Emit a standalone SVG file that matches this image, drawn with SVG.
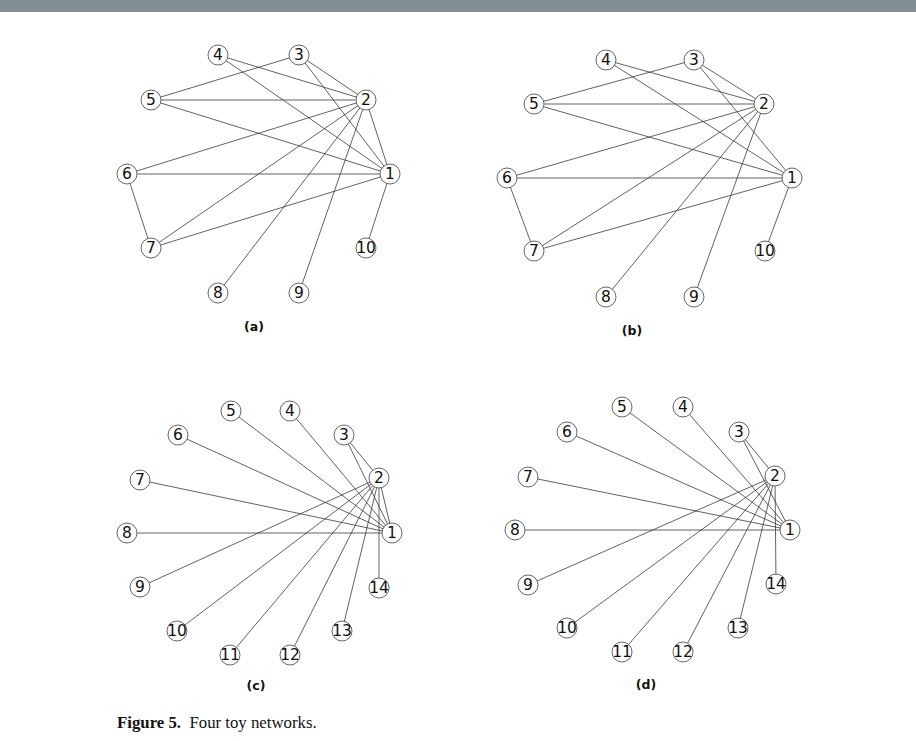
<svg xmlns="http://www.w3.org/2000/svg" width="916" height="741" viewBox="0 0 916 741">
<style>
.e{stroke:#3a3a3a;stroke-width:0.8;fill:none}
.n circle{fill:#fff;stroke:#555;stroke-width:0.9}
.n text{font-family:"DejaVu Sans",sans-serif;font-size:15.5px;fill:#111;text-anchor:middle;dominant-baseline:central}
.lab{font-family:"DejaVu Sans",sans-serif;font-size:12.5px;fill:#111;text-anchor:middle}
.cap{font-family:"Liberation Serif",serif;font-size:16.8px;fill:#111}
</style>
<rect x="0" y="0" width="916" height="12" fill="#838e95"/>
<!-- Panel a -->
<g id="panel-a">
<g id="a-edges">
<line class="e" x1="218" y1="55" x2="366" y2="100"/>
<line class="e" x1="218" y1="55" x2="390" y2="174"/>
<line class="e" x1="299" y1="55" x2="151" y2="100"/>
<line class="e" x1="299" y1="55" x2="366" y2="100"/>
<line class="e" x1="299" y1="55" x2="390" y2="174"/>
<line class="e" x1="151" y1="100" x2="366" y2="100"/>
<line class="e" x1="151" y1="100" x2="390" y2="174"/>
<line class="e" x1="366" y1="100" x2="127" y2="174"/>
<line class="e" x1="366" y1="100" x2="151" y2="248"/>
<line class="e" x1="366" y1="100" x2="218" y2="293"/>
<line class="e" x1="366" y1="100" x2="299" y2="293"/>
<line class="e" x1="366" y1="100" x2="390" y2="174"/>
<line class="e" x1="127" y1="174" x2="390" y2="174"/>
<line class="e" x1="127" y1="174" x2="151" y2="248"/>
<line class="e" x1="151" y1="248" x2="390" y2="174"/>
<line class="e" x1="390" y1="174" x2="366" y2="248"/>
</g>
<g id="a-n1" class="n"><circle cx="390" cy="174" r="10"/><text x="390" y="174">1</text></g>
<g id="a-n2" class="n"><circle cx="366" cy="100" r="10"/><text x="366" y="100">2</text></g>
<g id="a-n3" class="n"><circle cx="299" cy="55" r="10"/><text x="299" y="55">3</text></g>
<g id="a-n4" class="n"><circle cx="218" cy="55" r="10"/><text x="218" y="55">4</text></g>
<g id="a-n5" class="n"><circle cx="151" cy="100" r="10"/><text x="151" y="100">5</text></g>
<g id="a-n6" class="n"><circle cx="127" cy="174" r="10"/><text x="127" y="174">6</text></g>
<g id="a-n7" class="n"><circle cx="151" cy="248" r="10"/><text x="151" y="248">7</text></g>
<g id="a-n8" class="n"><circle cx="218" cy="293" r="10"/><text x="218" y="293">8</text></g>
<g id="a-n9" class="n"><circle cx="299" cy="293" r="10"/><text x="299" y="293">9</text></g>
<g id="a-n10" class="n"><circle cx="366" cy="248" r="10"/><text x="366" y="248">10</text></g>
<text class="lab" x="254" y="331" font-weight="bold">(a)</text>
</g>
<!-- Panel b -->
<g id="panel-b">
<g id="b-edges">
<line class="e" x1="606" y1="60" x2="764" y2="104"/>
<line class="e" x1="606" y1="60" x2="792" y2="178"/>
<line class="e" x1="694" y1="60" x2="534" y2="104"/>
<line class="e" x1="694" y1="60" x2="764" y2="104"/>
<line class="e" x1="694" y1="60" x2="792" y2="178"/>
<line class="e" x1="534" y1="104" x2="764" y2="104"/>
<line class="e" x1="534" y1="104" x2="792" y2="178"/>
<line class="e" x1="764" y1="104" x2="507" y2="178"/>
<line class="e" x1="764" y1="104" x2="534" y2="251"/>
<line class="e" x1="764" y1="104" x2="606" y2="297"/>
<line class="e" x1="764" y1="104" x2="694" y2="297"/>
<line class="e" x1="507" y1="178" x2="792" y2="178"/>
<line class="e" x1="507" y1="178" x2="534" y2="251"/>
<line class="e" x1="534" y1="251" x2="792" y2="178"/>
<line class="e" x1="792" y1="178" x2="765" y2="251"/>
</g>
<g id="b-n1" class="n"><circle cx="792" cy="178" r="10"/><text x="792" y="178">1</text></g>
<g id="b-n2" class="n"><circle cx="764" cy="104" r="10"/><text x="764" y="104">2</text></g>
<g id="b-n3" class="n"><circle cx="694" cy="60" r="10"/><text x="694" y="60">3</text></g>
<g id="b-n4" class="n"><circle cx="606" cy="60" r="10"/><text x="606" y="60">4</text></g>
<g id="b-n5" class="n"><circle cx="534" cy="104" r="10"/><text x="534" y="104">5</text></g>
<g id="b-n6" class="n"><circle cx="507" cy="178" r="10"/><text x="507" y="178">6</text></g>
<g id="b-n7" class="n"><circle cx="534" cy="251" r="10"/><text x="534" y="251">7</text></g>
<g id="b-n8" class="n"><circle cx="606" cy="297" r="10"/><text x="606" y="297">8</text></g>
<g id="b-n9" class="n"><circle cx="694" cy="297" r="10"/><text x="694" y="297">9</text></g>
<g id="b-n10" class="n"><circle cx="765" cy="251" r="10"/><text x="765" y="251">10</text></g>
<text class="lab" x="632" y="335" font-weight="bold">(b)</text>
</g>
<!-- Panel c -->
<g id="panel-c">
<g id="c-edges">
<line class="e" x1="392" y1="533" x2="290" y2="411"/>
<line class="e" x1="392" y1="533" x2="231" y2="411"/>
<line class="e" x1="392" y1="533" x2="178" y2="435"/>
<line class="e" x1="392" y1="533" x2="140" y2="480"/>
<line class="e" x1="392" y1="533" x2="127" y2="533"/>
<line class="e" x1="344" y1="435" x2="379" y2="478"/>
<line class="e" x1="344" y1="435" x2="392" y2="533"/>
<line class="e" x1="379" y1="478" x2="392" y2="533"/>
<line class="e" x1="379" y1="478" x2="140" y2="587"/>
<line class="e" x1="379" y1="478" x2="177" y2="631"/>
<line class="e" x1="379" y1="478" x2="230" y2="655"/>
<line class="e" x1="379" y1="478" x2="290" y2="655"/>
<line class="e" x1="379" y1="478" x2="342" y2="631"/>
<line class="e" x1="379" y1="478" x2="379" y2="588"/>
</g>
<g id="c-n1" class="n"><circle cx="392" cy="533" r="10"/><text x="392" y="533">1</text></g>
<g id="c-n2" class="n"><circle cx="379" cy="478" r="10"/><text x="379" y="478">2</text></g>
<g id="c-n3" class="n"><circle cx="344" cy="435" r="10"/><text x="344" y="435">3</text></g>
<g id="c-n4" class="n"><circle cx="290" cy="411" r="10"/><text x="290" y="411">4</text></g>
<g id="c-n5" class="n"><circle cx="231" cy="411" r="10"/><text x="231" y="411">5</text></g>
<g id="c-n6" class="n"><circle cx="178" cy="435" r="10"/><text x="178" y="435">6</text></g>
<g id="c-n7" class="n"><circle cx="140" cy="480" r="10"/><text x="140" y="480">7</text></g>
<g id="c-n8" class="n"><circle cx="127" cy="533" r="10"/><text x="127" y="533">8</text></g>
<g id="c-n9" class="n"><circle cx="140" cy="587" r="10"/><text x="140" y="587">9</text></g>
<g id="c-n10" class="n"><circle cx="177" cy="631" r="10"/><text x="177" y="631">10</text></g>
<g id="c-n11" class="n"><circle cx="230" cy="655" r="10"/><text x="230" y="655">11</text></g>
<g id="c-n12" class="n"><circle cx="290" cy="655" r="10"/><text x="290" y="655">12</text></g>
<g id="c-n13" class="n"><circle cx="342" cy="631" r="10"/><text x="342" y="631">13</text></g>
<g id="c-n14" class="n"><circle cx="379" cy="588" r="10"/><text x="379" y="588">14</text></g>
<text class="lab" x="256" y="690" font-weight="600">(c)</text>
</g>
<!-- Panel d -->
<g id="panel-d">
<g id="d-edges">
<line class="e" x1="790" y1="530" x2="683" y2="407"/>
<line class="e" x1="790" y1="530" x2="622" y2="407"/>
<line class="e" x1="790" y1="530" x2="567" y2="432"/>
<line class="e" x1="790" y1="530" x2="528" y2="477"/>
<line class="e" x1="790" y1="530" x2="515" y2="530"/>
<line class="e" x1="739" y1="432" x2="775" y2="476"/>
<line class="e" x1="739" y1="432" x2="790" y2="530"/>
<line class="e" x1="775" y1="476" x2="528" y2="585"/>
<line class="e" x1="775" y1="476" x2="567" y2="628"/>
<line class="e" x1="775" y1="476" x2="622" y2="652"/>
<line class="e" x1="775" y1="476" x2="683" y2="652"/>
<line class="e" x1="775" y1="476" x2="738" y2="628"/>
<line class="e" x1="775" y1="476" x2="776" y2="584"/>
</g>
<g id="d-n1" class="n"><circle cx="790" cy="530" r="10"/><text x="790" y="530">1</text></g>
<g id="d-n2" class="n"><circle cx="775" cy="476" r="10"/><text x="775" y="476">2</text></g>
<g id="d-n3" class="n"><circle cx="739" cy="432" r="10"/><text x="739" y="432">3</text></g>
<g id="d-n4" class="n"><circle cx="683" cy="407" r="10"/><text x="683" y="407">4</text></g>
<g id="d-n5" class="n"><circle cx="622" cy="407" r="10"/><text x="622" y="407">5</text></g>
<g id="d-n6" class="n"><circle cx="567" cy="432" r="10"/><text x="567" y="432">6</text></g>
<g id="d-n7" class="n"><circle cx="528" cy="477" r="10"/><text x="528" y="477">7</text></g>
<g id="d-n8" class="n"><circle cx="515" cy="530" r="10"/><text x="515" y="530">8</text></g>
<g id="d-n9" class="n"><circle cx="528" cy="585" r="10"/><text x="528" y="585">9</text></g>
<g id="d-n10" class="n"><circle cx="567" cy="628" r="10"/><text x="567" y="628">10</text></g>
<g id="d-n11" class="n"><circle cx="622" cy="652" r="10"/><text x="622" y="652">11</text></g>
<g id="d-n12" class="n"><circle cx="683" cy="652" r="10"/><text x="683" y="652">12</text></g>
<g id="d-n13" class="n"><circle cx="738" cy="628" r="10"/><text x="738" y="628">13</text></g>
<g id="d-n14" class="n"><circle cx="776" cy="584" r="10"/><text x="776" y="584">14</text></g>
<text class="lab" x="646" y="689" font-weight="600">(d)</text>
</g>
<text class="cap" x="117" y="728"><tspan font-weight="bold">Figure 5.</tspan>&#160; Four toy networks.</text>
</svg>
